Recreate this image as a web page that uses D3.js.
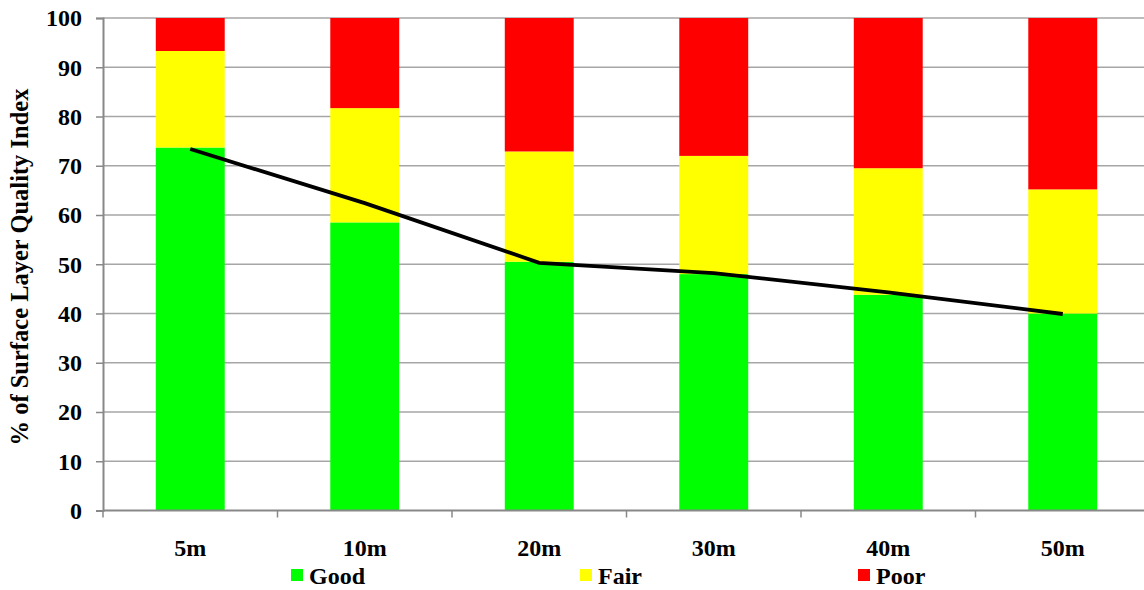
<!DOCTYPE html>
<html>
<head>
<meta charset="utf-8">
<script src="https://cdn.jsdelivr.net/npm/d3@7"></script>
<style>
  html, body { margin: 0; padding: 0; background: #fff; }
  svg { display: block; }
  text { font-family: "Liberation Serif", "Times New Roman", serif; font-weight: bold; fill: #000; }
</style>
</head>
<body>
<svg id="chart" width="1144" height="590"></svg>
<script>
// Depth categories
const depths = ["5m", "10m", "20m", "30m", "40m", "50m"];
// Share (%) of each quality class per depth
const good = [73.7, 58.5, 50.5, 48.0, 43.8, 40.0];
const fair = [19.6, 23.2, 22.4, 24.0, 25.7, 25.2];
const poor = [6.7, 18.3, 27.1, 28.0, 30.5, 34.8];
// Trend line of the "Good" share
const trend = [73.4, 62.4, 50.3, 48.2, 44.3, 39.9];
const yTicks = [0, 10, 20, 30, 40, 50, 60, 70, 80, 90, 100];

const classes = ["Good", "Fair", "Poor"];
const colors = { Good: "#00ff00", Fair: "#ffff00", Poor: "#ff0000" };

const svg = d3.select("#chart");
const m = { left: 103, right: -6, top: 18, bottom: 80 };
const W = 1144, H = 590;
const plotR = W - m.right, plotB = H - m.bottom + 0.5;

const x = d3.scaleBand().domain(depths).range([m.left, plotR]).paddingInner(0.605).paddingOuter(0.3025);
const xTickScale = d3.scaleBand().domain(depths).range([m.left, plotR]);
const y = d3.scaleLinear().domain([0, 100]).range([plotB, m.top]);

// Horizontal gridlines
svg.append("g")
  .selectAll("line")
  .data(yTicks.filter(t => t > 0))
  .join("line")
  .attr("x1", m.left).attr("x2", plotR)
  .attr("y1", d => y(d)).attr("y2", d => y(d))
  .attr("stroke", "#a6a6a6").attr("stroke-width", 1.5);

// Stacked bars
const rows = depths.map((d, i) => ({ depth: d, Good: good[i], Fair: fair[i], Poor: poor[i] }));
const stacked = d3.stack().keys(classes)(rows);
svg.append("g")
  .selectAll("g")
  .data(stacked)
  .join("g")
  .attr("fill", s => colors[s.key])
  .selectAll("rect")
  .data(s => s)
  .join("rect")
  .attr("x", d => x(d.data.depth))
  .attr("width", x.bandwidth())
  .attr("y", d => y(Math.min(d[1], 100)))
  .attr("height", d => y(d[0]) - y(Math.min(d[1], 100)));

// Y axis
const yAxis = svg.append("g")
  .attr("transform", `translate(${m.left},0)`)
  .call(d3.axisLeft(y).tickValues(yTicks).tickSize(7).tickPadding(14));
yAxis.select(".domain").attr("stroke", "#888").attr("stroke-width", 2);
yAxis.selectAll(".tick line").attr("stroke", "#888").attr("stroke-width", 1.5);
yAxis.selectAll(".tick text")
  .style("font-family", "'Liberation Serif', serif")
  .style("font-weight", "bold")
  .style("font-size", "24px")
  .attr("dy", "0.33em");

// X axis with ticks at band boundaries
const xAxisG = svg.append("g").attr("transform", `translate(0,${plotB})`);
xAxisG.append("line")
  .attr("x1", m.left).attr("x2", plotR)
  .attr("stroke", "#888").attr("stroke-width", 2);
const bounds = depths.map(d => xTickScale(d)).concat([plotR]);
xAxisG.selectAll("line.tk")
  .data(bounds)
  .join("line")
  .attr("class", "tk")
  .attr("x1", d => d).attr("x2", d => d)
  .attr("y1", 0).attr("y2", 7)
  .attr("stroke", "#888").attr("stroke-width", 1.5);
xAxisG.selectAll("text")
  .data(depths)
  .join("text")
  .attr("x", d => xTickScale(d) + xTickScale.bandwidth() / 2)
  .attr("y", 45)
  .attr("text-anchor", "middle")
  .style("font-size", "24px")
  .text(d => d);

// Trend line
svg.append("path")
  .datum(trend)
  .attr("fill", "none")
  .attr("stroke", "#000")
  .attr("stroke-width", 3.8)
  .attr("d", d3.line()
    .x((d, i) => x(depths[i]) + x.bandwidth() / 2)
    .y(d => y(d)));

// Y axis title
svg.append("text")
  .attr("transform", "translate(28,267) rotate(-90)")
  .attr("text-anchor", "middle")
  .style("font-size", "24.5px")
  .text("% of Surface Layer Quality Index");

// Legend
const legendX = [291, 580, 858];
const legend = svg.append("g");
classes.forEach((c, i) => {
  const g = legend.append("g").attr("transform", `translate(${legendX[i]},569)`);
  g.append("rect").attr("width", 12).attr("height", 12).attr("fill", colors[c]);
  g.append("text").attr("x", 18).attr("y", 15).style("font-size", "24px").text(c);
});
</script>
</body>
</html>
